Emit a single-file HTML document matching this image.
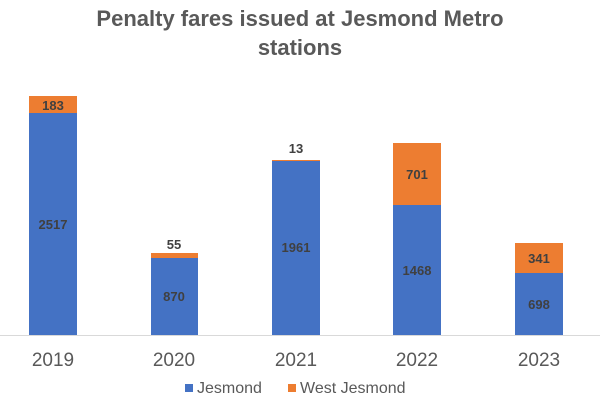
<!DOCTYPE html>
<html><head><style>body{margin:0;background:#fff}</style></head><body>
<svg width="600" height="400" xmlns="http://www.w3.org/2000/svg" font-family="Liberation Sans, Arial, sans-serif">
<rect width="600" height="400" fill="#fff"/>
<text x="300" y="26" text-anchor="middle" font-size="22" font-weight="bold" fill="#595959">Penalty fares issued at Jesmond Metro</text>
<text x="300" y="55" text-anchor="middle" font-size="22" font-weight="bold" fill="#595959">stations</text>
<line x1="0" y1="335.5" x2="600" y2="335.5" stroke="#d9d9d9" stroke-width="1"/>
<g fill="#4472c4">
<rect x="29" y="113" width="48" height="222"/>
<rect x="151" y="258" width="47" height="77"/>
<rect x="272" y="161" width="48" height="174"/>
<rect x="393" y="205" width="48" height="130"/>
<rect x="515" y="273" width="48" height="62"/>
</g>
<g fill="#ed7d31">
<rect x="29" y="96" width="48" height="17"/>
<rect x="151" y="253" width="47" height="5"/>
<rect x="272" y="160" width="48" height="1"/>
<rect x="393" y="143" width="48" height="62"/>
<rect x="515" y="243" width="48" height="30"/>
</g>
<g font-size="13" font-weight="bold" fill="#404040" text-anchor="middle">
<text x="53" y="110">183</text>
<text x="53" y="229">2517</text>
<text x="174" y="249">55</text>
<text x="174" y="301">870</text>
<text x="296" y="153">13</text>
<text x="296" y="252">1961</text>
<text x="417" y="179">701</text>
<text x="417" y="275">1468</text>
<text x="539" y="263">341</text>
<text x="539" y="309">698</text>
</g>
<g font-size="19" fill="#595959" text-anchor="middle">
<text x="53" y="366">2019</text>
<text x="174" y="366">2020</text>
<text x="296" y="366">2021</text>
<text x="417" y="366">2022</text>
<text x="539" y="366">2023</text>
</g>
<rect x="185" y="384" width="8" height="8" fill="#4472c4"/>
<text x="197" y="393" font-size="16" fill="#595959">Jesmond</text>
<rect x="288" y="384" width="8" height="8" fill="#ed7d31"/>
<text x="300" y="393" font-size="16" fill="#595959">West Jesmond</text>
</svg>
</body></html>
